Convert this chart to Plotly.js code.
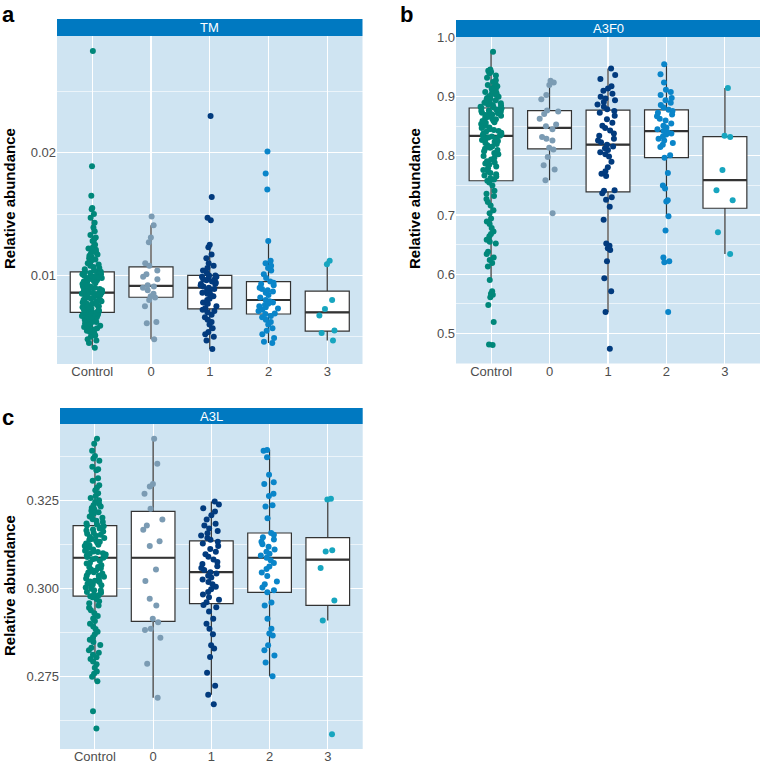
<!DOCTYPE html>
<html lang="en">
<head>
<meta charset="UTF-8">
<title>Relative abundance by group</title>
<script src="https://cdn.plot.ly/plotly-3.0.1.min.js"></script>
<style>
  html, body { margin: 0; padding: 0; background: #ffffff; }
  #chart { width: 760px; height: 764px; }
</style>
</head>
<body>
<div id="chart"></div>
<script>
// categories and colours
const groups = ['Control', '0', '1', '2', '3'];
const groupColors = ['#00877a', '#7b9bb3', '#023b7e', '#0a85c9', '#17a5bf'];

// panel a: TM
const tmControl = [
  0.0041, 0.0045, 0.0047, 0.0048, 0.0050, 0.0051, 0.0052, 0.0053, 0.0054, 0.0055,
  0.0056, 0.0056, 0.0057, 0.0058, 0.0059, 0.0059, 0.0060, 0.0061, 0.0061, 0.0062,
  0.0062, 0.0063, 0.0064, 0.0064, 0.0065, 0.0065, 0.0066, 0.0066, 0.0067, 0.0067,
  0.0068, 0.0068, 0.0069, 0.0069, 0.0069, 0.0070,
  0.0070, 0.0071, 0.0071, 0.0072, 0.0072, 0.0073, 0.0073, 0.0074, 0.0074, 0.0075,
  0.0075, 0.0076, 0.0076, 0.0077, 0.0077, 0.0078, 0.0078, 0.0079, 0.0079, 0.0080,
  0.0080, 0.0081, 0.0081, 0.0082, 0.0082, 0.0083, 0.0083, 0.0084, 0.0084, 0.0085,
  0.0085, 0.0085, 0.0086, 0.0086, 0.0086,
  0.0087, 0.0087, 0.0088, 0.0088, 0.0089, 0.0089, 0.0090, 0.0090, 0.0091, 0.0091,
  0.0092, 0.0092, 0.0093, 0.0093, 0.0094, 0.0094, 0.0095, 0.0095, 0.0096, 0.0096,
  0.0097, 0.0097, 0.0098, 0.0098, 0.0099, 0.0099, 0.0100, 0.0100, 0.0101, 0.0101,
  0.0102, 0.0102, 0.0103, 0.0103, 0.0103,
  0.0104, 0.0105, 0.0106, 0.0107, 0.0108, 0.0109, 0.0110, 0.0111, 0.0112, 0.0113,
  0.0114, 0.0115, 0.0116, 0.0117, 0.0118, 0.0119, 0.0120, 0.0121, 0.0122, 0.0123,
  0.0125, 0.0128, 0.0129, 0.0131, 0.0133, 0.0136, 0.0139, 0.0143, 0.0147, 0.0150,
  0.0154, 0.0155, 0.0165, 0.0189, 0.0283
];
const tmG0 = [
  0.0048, 0.0061, 0.0062, 0.0075, 0.0080, 0.0082, 0.0083, 0.0085, 0.0088, 0.0090,
  0.0091, 0.0092, 0.0097, 0.0099, 0.0101, 0.0104, 0.0108, 0.0110, 0.0127, 0.0131,
  0.0141, 0.0148
];
const tmG1 = [
  0.0040, 0.0047, 0.0050, 0.0052, 0.0054, 0.0057, 0.0060, 0.0062, 0.0064, 0.0066,
  0.0068, 0.0070, 0.0071, 0.0072, 0.00735, 0.0075, 0.0077, 0.0078, 0.0080, 0.0081,
  0.0083, 0.0084, 0.0085, 0.0086, 0.0087, 0.0088, 0.0089, 0.0090, 0.0091, 0.0092,
  0.0093, 0.0093, 0.0094, 0.0095, 0.0096, 0.0097, 0.0097, 0.0098, 0.0099, 0.0099,
  0.0100, 0.0100, 0.0102, 0.0104, 0.0106, 0.0108, 0.0110, 0.0114, 0.0117, 0.0123,
  0.0125, 0.0145, 0.0147, 0.0164, 0.0230
];
const tmG2 = [
  0.0045, 0.0046, 0.0049, 0.0052, 0.0055, 0.0057, 0.0060, 0.0062, 0.0064, 0.0066,
  0.0067, 0.00686, 0.0069, 0.0071, 0.0072, 0.0073, 0.0074, 0.0075, 0.0076, 0.0077,
  0.0078, 0.0079, 0.0080, 0.0082, 0.0084, 0.0086, 0.0087, 0.0088, 0.0089, 0.0090,
  0.0092, 0.0093, 0.0094, 0.0095, 0.0098, 0.0101, 0.0104, 0.0106, 0.0108, 0.0110,
  0.0112, 0.0128, 0.0170, 0.0183, 0.0201
];
const tmG3 = [0.0047, 0.00532, 0.00551, 0.00673, 0.00727, 0.0080, 0.01092, 0.01119];

// panel b: A3F0
const a3f0Control = [
  0.480, 0.481, 0.519, 0.548, 0.561, 0.565, 0.567, 0.571, 0.590, 0.613,
  0.619, 0.624, 0.628, 0.634, 0.638, 0.652, 0.655, 0.658, 0.664, 0.668,
  0.672, 0.678, 0.685, 0.689, 0.694, 0.703, 0.708, 0.716, 0.722, 0.727,
  0.732, 0.736, 0.741, 0.750, 0.755, 0.758,
  0.760, 0.762, 0.765, 0.767, 0.769, 0.771, 0.773, 0.776, 0.779, 0.782,
  0.785, 0.787, 0.789, 0.791, 0.794, 0.797, 0.800, 0.803, 0.805, 0.808,
  0.810, 0.812, 0.814, 0.816, 0.818, 0.820, 0.822, 0.824, 0.825, 0.827,
  0.829, 0.830, 0.831, 0.833, 0.834,
  0.835, 0.836, 0.838, 0.839, 0.841, 0.842, 0.844, 0.845, 0.847, 0.848,
  0.850, 0.851, 0.853, 0.854, 0.856, 0.857, 0.859, 0.860, 0.862, 0.863,
  0.865, 0.866, 0.868, 0.869, 0.870, 0.872, 0.873, 0.874, 0.875, 0.876,
  0.877, 0.878, 0.879, 0.880, 0.881,
  0.882, 0.883, 0.885, 0.886, 0.887, 0.889, 0.890, 0.891, 0.893, 0.894,
  0.895, 0.897, 0.898, 0.900, 0.901, 0.903, 0.904, 0.906, 0.908, 0.910,
  0.912, 0.914, 0.916, 0.918, 0.920, 0.922, 0.925, 0.928, 0.932, 0.936,
  0.940, 0.942, 0.944, 0.946, 0.976
];
const a3f0G0 = [
  0.703, 0.759, 0.777, 0.784, 0.798, 0.811, 0.814, 0.826, 0.829, 0.832,
  0.845, 0.850, 0.853, 0.863, 0.871, 0.875, 0.877, 0.896, 0.903, 0.920,
  0.924, 0.927
];
const a3f0G1 = [
  0.474, 0.536, 0.571, 0.593, 0.622, 0.641, 0.644, 0.648, 0.652, 0.692,
  0.714, 0.726, 0.730, 0.737, 0.741, 0.742, 0.766, 0.770, 0.774, 0.781,
  0.790, 0.799, 0.803, 0.806, 0.810, 0.813, 0.816, 0.819, 0.823, 0.826,
  0.829, 0.834, 0.838, 0.843, 0.847, 0.851, 0.856, 0.862, 0.868, 0.873,
  0.876, 0.879, 0.883, 0.887, 0.891, 0.894, 0.897, 0.900, 0.905, 0.910,
  0.914, 0.918, 0.930, 0.937, 0.948
];
const a3f0G2 = [
  0.536, 0.620, 0.622, 0.628, 0.674, 0.698, 0.723, 0.725, 0.745, 0.750,
  0.771, 0.797, 0.801, 0.815, 0.819, 0.822, 0.826, 0.829, 0.833, 0.836,
  0.838, 0.840, 0.842, 0.845, 0.848, 0.851, 0.855, 0.860, 0.863, 0.867,
  0.870, 0.873, 0.876, 0.878, 0.882, 0.886, 0.890, 0.894, 0.898, 0.903,
  0.908, 0.912, 0.924, 0.938, 0.955
];
const a3f0G3 = [0.634, 0.671, 0.725, 0.742, 0.776, 0.832, 0.834, 0.915];

// panel c: A3L
const a3lControl = [
  0.2603, 0.2652, 0.2737, 0.2750, 0.2758, 0.2765, 0.2775, 0.2785, 0.2793, 0.2800,
  0.2805, 0.2812, 0.2818, 0.2825, 0.2832, 0.2840, 0.2848, 0.2855, 0.2862, 0.2870,
  0.2877, 0.2885, 0.2892, 0.2900, 0.2908, 0.2915, 0.2922, 0.2930, 0.2938, 0.2945,
  0.2952, 0.2958, 0.2964, 0.2970, 0.2975, 0.2978,
  0.2981, 0.2983, 0.2988, 0.2990, 0.2994, 0.2995, 0.2999, 0.3003, 0.3004, 0.3009,
  0.3011, 0.3013, 0.3018, 0.3020, 0.3022, 0.3027, 0.3028, 0.3033, 0.3036, 0.3037,
  0.3042, 0.3045, 0.3046, 0.3051, 0.3053, 0.3057, 0.3060, 0.3061, 0.3066, 0.3071,
  0.3073, 0.3078, 0.3083, 0.3085, 0.3087,
  0.3089, 0.3091, 0.3093, 0.3096, 0.3098, 0.3100, 0.3103, 0.3105, 0.3107, 0.3110,
  0.3112, 0.3115, 0.3117, 0.3120, 0.3122, 0.3124, 0.3127, 0.3130, 0.3132, 0.3135,
  0.3137, 0.3140, 0.3143, 0.3146, 0.3149, 0.3152, 0.3155, 0.3158, 0.3161, 0.3164,
  0.3167, 0.3170, 0.3173, 0.3176, 0.3178,
  0.3181, 0.3184, 0.3188, 0.3192, 0.3196, 0.3200, 0.3204, 0.3208, 0.3212, 0.3216,
  0.3220, 0.3224, 0.3228, 0.3232, 0.3236, 0.3240, 0.3245, 0.3250, 0.3256, 0.3262,
  0.3270, 0.3278, 0.3285, 0.3292, 0.3305, 0.3312, 0.3335, 0.3338, 0.3345, 0.3362,
  0.3368, 0.3375, 0.3390, 0.3410, 0.3424
];
const a3lG0 = [
  0.2690, 0.2787, 0.2860, 0.2882, 0.2886, 0.2904, 0.2914, 0.2952, 0.2971, 0.3021,
  0.3054, 0.3120, 0.3134, 0.3166, 0.3178, 0.3195, 0.3226, 0.3268, 0.3289, 0.3296,
  0.3353, 0.3424
];
const a3lG1 = [
  0.2672, 0.2699, 0.2724, 0.2761, 0.2806, 0.2830, 0.2839, 0.2870, 0.2886, 0.2900,
  0.2914, 0.2935, 0.2947, 0.2953, 0.2961, 0.2968, 0.2975, 0.2983, 0.2990, 0.2998,
  0.3005, 0.3012, 0.3018, 0.3025, 0.3031, 0.3036, 0.3042, 0.3046, 0.3052, 0.3058,
  0.3063, 0.3069, 0.3075, 0.3082, 0.3090, 0.3097, 0.3104, 0.3112, 0.3120, 0.3127,
  0.3132, 0.3138, 0.3143, 0.3150, 0.3156, 0.3163, 0.3170, 0.3178, 0.3183, 0.3195,
  0.3207, 0.3218, 0.3227, 0.3238, 0.3246
];
const a3lG2 = [
  0.2751, 0.2790, 0.2810, 0.2825, 0.2839, 0.2867, 0.2872, 0.2886, 0.2914, 0.2952,
  0.2960, 0.2989, 0.2995, 0.3003, 0.3012, 0.3020, 0.3035, 0.3045, 0.3055, 0.3062,
  0.3072, 0.3080, 0.3087, 0.3093, 0.3098, 0.3104, 0.3110, 0.3118, 0.3125, 0.3132,
  0.3139, 0.3145, 0.3152, 0.3157, 0.3199, 0.3232, 0.3236, 0.3262, 0.3268, 0.3296,
  0.3301, 0.3322, 0.3372, 0.3390, 0.3392
];
const a3lG3 = [0.2587, 0.2909, 0.2966, 0.3058, 0.3105, 0.3108, 0.3252, 0.3254];

const FONT = 'Liberation Sans, Arial, sans-serif';
const W = 760, H = 764;
const px = v => v / W;          // pixel -> paper x
const py = v => 1 - v / H;      // pixel -> paper y

// R type-7 quantile, same as ggplot's stat_boxplot
function quantile(sorted, p) {
  const pos = (sorted.length - 1) * p;
  const lo = Math.floor(pos), hi = Math.ceil(pos);
  return sorted[lo] + (sorted[hi] - sorted[lo]) * (pos - lo);
}

function boxStats(vals) {
  const s = vals.slice().sort((a, b) => a - b);
  const q1 = quantile(s, 0.25), med = quantile(s, 0.5), q3 = quantile(s, 0.75);
  const iqr = q3 - q1;
  const lf = Math.min(...s.filter(v => v >= q1 - 1.5 * iqr));
  const uf = Math.max(...s.filter(v => v <= q3 + 1.5 * iqr));
  return { q1, med, q3, lf, uf };
}

function panelTraces(series, xa, ya) {
  const out = [];
  series.forEach((vals, i) => {
    const cat = groups[i];
    const st = boxStats(vals);
    // box + whiskers
    out.push({
      type: 'box', xaxis: xa, yaxis: ya, x: [cat],
      q1: [st.q1], median: [st.med], q3: [st.q3],
      lowerfence: [st.lf], upperfence: [st.uf],
      width: 0.75, whiskerwidth: 0, fillcolor: '#ffffff',
      line: { color: '#333333', width: 1.2 },
      boxpoints: false, hoverinfo: 'skip', showlegend: false
    });
    // thicker median line
    out.push({
      type: 'box', xaxis: xa, yaxis: ya, x: [cat],
      q1: [st.med], median: [st.med], q3: [st.med],
      lowerfence: [st.med], upperfence: [st.med],
      width: 0.75, whiskerwidth: 0, fillcolor: 'rgba(0,0,0,0)',
      line: { color: '#333333', width: 2.2 },
      boxpoints: false, hoverinfo: 'skip', showlegend: false
    });
    // jittered points on top
    out.push({
      type: 'box', xaxis: xa, yaxis: ya,
      x: vals.map(() => cat), y: vals,
      width: 0.75, whiskerwidth: 0, fillcolor: 'rgba(0,0,0,0)',
      line: { color: 'rgba(0,0,0,0)', width: 0 },
      boxpoints: 'all', jitter: 0.5, pointpos: 0,
      marker: { color: groupColors[i], size: 6 },
      hoverinfo: 'skip', showlegend: false
    });
  });
  return out;
}

function padRange(series) {
  const all = [].concat(...series);
  const lo = Math.min(...all), hi = Math.max(...all);
  const pad = (hi - lo) * 0.05;
  return [lo - pad, hi + pad];
}

const tmSeries = [tmControl, tmG0, tmG1, tmG2, tmG3];
const a3f0Series = [a3f0Control, a3f0G0, a3f0G1, a3f0G2, a3f0G3];
const a3lSeries = [a3lControl, a3lG0, a3lG1, a3lG2, a3lG3];

const data = [].concat(
  panelTraces(tmSeries, 'x', 'y'),
  panelTraces(a3f0Series, 'x2', 'y2'),
  panelTraces(a3lSeries, 'x3', 'y3')
);

const tickFont = { family: FONT, size: 13, color: '#4d4d4d' };
const xBase = {
  type: 'category', categoryorder: 'array', categoryarray: groups,
  range: [-0.6, 4.6], showgrid: true, gridcolor: '#ffffff', gridwidth: 1.1,
  zeroline: false, showline: false, ticks: '', tickfont: tickFont,
  ticklabelstandoff: -2
};
const yBase = {
  showgrid: true, gridcolor: '#ffffff', gridwidth: 1.1,
  zeroline: false, showline: false, ticks: '', tickfont: tickFont, tick0: 0
};
const minorGrid = d => ({ dtick: d, tick0: 0, showgrid: true, gridcolor: '#ffffff', gridwidth: 0.6 });

function label(text, x, y, size, color, weight, extra) {
  return Object.assign({
    text: text, xref: 'paper', yref: 'paper', x: px(x), y: py(y),
    xanchor: 'center', yanchor: 'middle', showarrow: false,
    font: { family: FONT, size: size, color: color, weight: weight }
  }, extra || {});
}

const layout = {
  width: W, height: H,
  margin: { l: 0, r: 0, t: 0, b: 0 },
  paper_bgcolor: '#ffffff',
  plot_bgcolor: '#cfe4f2',
  showlegend: false,
  boxmode: 'overlay',
  font: { family: FONT },
  xaxis: Object.assign({}, xBase, { domain: [px(57), px(362.5)], anchor: 'y' }),
  yaxis: Object.assign({}, yBase, {
    domain: [py(364), py(36)], anchor: 'x', range: padRange(tmSeries),
    dtick: 0.01, minor: minorGrid(0.005)
  }),
  xaxis2: Object.assign({}, xBase, { domain: [px(456), 1], anchor: 'y2' }),
  yaxis2: Object.assign({}, yBase, {
    domain: [py(363.5), py(37)], anchor: 'x2', range: padRange(a3f0Series),
    dtick: 0.1, tickformat: '.1f', minor: minorGrid(0.05)
  }),
  xaxis3: Object.assign({}, xBase, { domain: [px(60), px(362.7)], anchor: 'y3' }),
  yaxis3: Object.assign({}, yBase, {
    domain: [py(749), py(424)], anchor: 'x3', range: padRange(a3lSeries),
    dtick: 0.025, tickformat: '.3f', minor: minorGrid(0.0125)
  }),
  shapes: [
    // facet strips
    { type: 'rect', xref: 'paper', yref: 'paper', x0: px(57), x1: px(362.5), y0: py(36), y1: py(19),
      fillcolor: '#0079c1', line: { width: 0 } },
    { type: 'rect', xref: 'paper', yref: 'paper', x0: px(456), x1: 1, y0: py(37), y1: py(20),
      fillcolor: '#0079c1', line: { width: 0 } },
    { type: 'rect', xref: 'paper', yref: 'paper', x0: px(60), x1: px(362.7), y0: py(424), y1: py(408),
      fillcolor: '#0079c1', line: { width: 0 } }
  ],
  annotations: [
    // strip labels
    label('TM', 209.7, 27.5, 13, '#ffffff', 'normal'),
    label('A3F0', 608, 28.5, 13, '#ffffff', 'normal'),
    label('A3L', 211.3, 416, 13, '#ffffff', 'normal'),
    // y titles
    label('Relative abundance', 9, 199, 15, '#000000', 'bold', { textangle: -90 }),
    label('Relative abundance', 414, 199, 15, '#000000', 'bold', { textangle: -90 }),
    label('Relative abundance', 9, 586, 15, '#000000', 'bold', { textangle: -90 }),
    // panel letters
    label('a', 0, 0, 22, '#000000', 'bold', { xanchor: 'left', yanchor: 'top' }),
    label('b', 398, 0, 22, '#000000', 'bold', { xanchor: 'left', yanchor: 'top' }),
    label('c', 0, 403, 22, '#000000', 'bold', { xanchor: 'left', yanchor: 'top' })
  ]
};

Plotly.newPlot('chart', data, layout, { staticPlot: true, displayModeBar: false });
</script>
</body>
</html>
